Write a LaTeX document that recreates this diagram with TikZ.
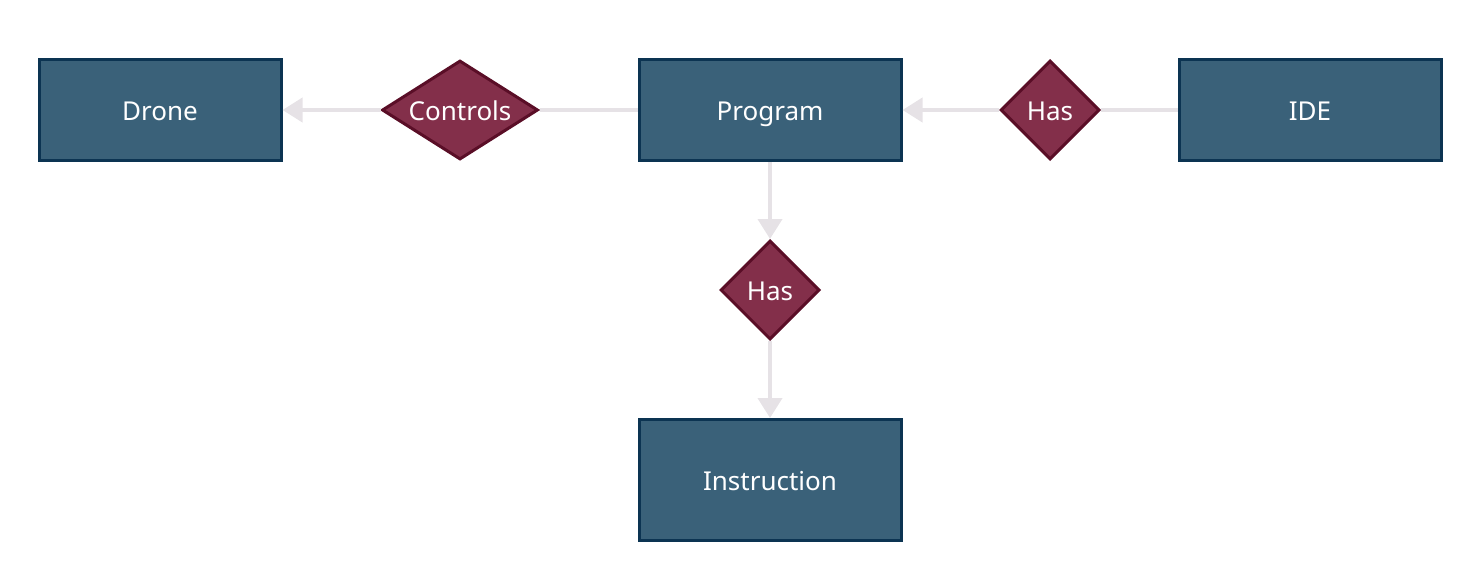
\documentclass[tikz,border=0pt]{standalone}
\usepackage{fontspec}
\setmainfont{Noto Sans}
\usetikzlibrary{shapes.geometric,arrows.meta}
\definecolor{boxfill}{HTML}{3A6179}
\definecolor{boxline}{HTML}{0C3452}
\definecolor{diafill}{HTML}{832F4A}
\definecolor{dialine}{HTML}{5A0E27}
\definecolor{edgecol}{HTML}{E6E2E6}
\tikzset{
  entity/.style={draw=boxline, fill=boxfill, line width=3pt, minimum height=101pt, inner sep=0pt},
  rel/.style={diamond, draw=dialine, fill=diafill, line width=3pt, inner sep=0pt, line join=miter},
  lbl/.style={text=white, font=\fontsize{26}{30}\selectfont, inner sep=0pt, text height=20pt, text depth=0pt},
  conn/.style={draw=edgecol, line width=4pt},
  arr/.style={conn, -{Triangle[length=20pt,width=24pt]}}
}
\begin{document}
\begin{tikzpicture}[x=1pt,y=-1pt]
\useasboundingbox (0,0) rectangle (1481,581);
\node[entity, minimum width=242pt] (drone) at (160,110) {};
\node[lbl] at (drone) {Drone};
\node[entity, minimum width=262pt] (program) at (770,110) {};
\node[lbl] at (program) {Program};
\node[entity, minimum width=262pt] (ide) at (1310,110) {};
\node[lbl] at (ide) {IDE};
\node[entity, minimum width=262pt, minimum height=121pt] (instr) at (770,480) {};
\node[lbl] at (instr) {Instruction};
\node[rel, minimum width=156pt, minimum height=99pt] (controls) at (460,110) {};
\node[lbl] at (controls) {Controls};
\node[rel, minimum width=99pt, minimum height=99pt] (has1) at (1050,110) {};
\node[lbl] at (has1) {Has};
\node[rel, minimum width=99pt, minimum height=99pt] (has2) at (770,290) {};
\node[lbl] at (has2) {Has};
\draw[conn] (program.west) -- (controls.east);
\draw[arr] (controls.west) -- (drone.east);
\draw[conn] (ide.west) -- (has1.east);
\draw[arr] (has1.west) -- (program.east);
\draw[arr] (program.south) -- (has2.north);
\draw[arr] (has2.south) -- (instr.north);
\end{tikzpicture}
\end{document}
